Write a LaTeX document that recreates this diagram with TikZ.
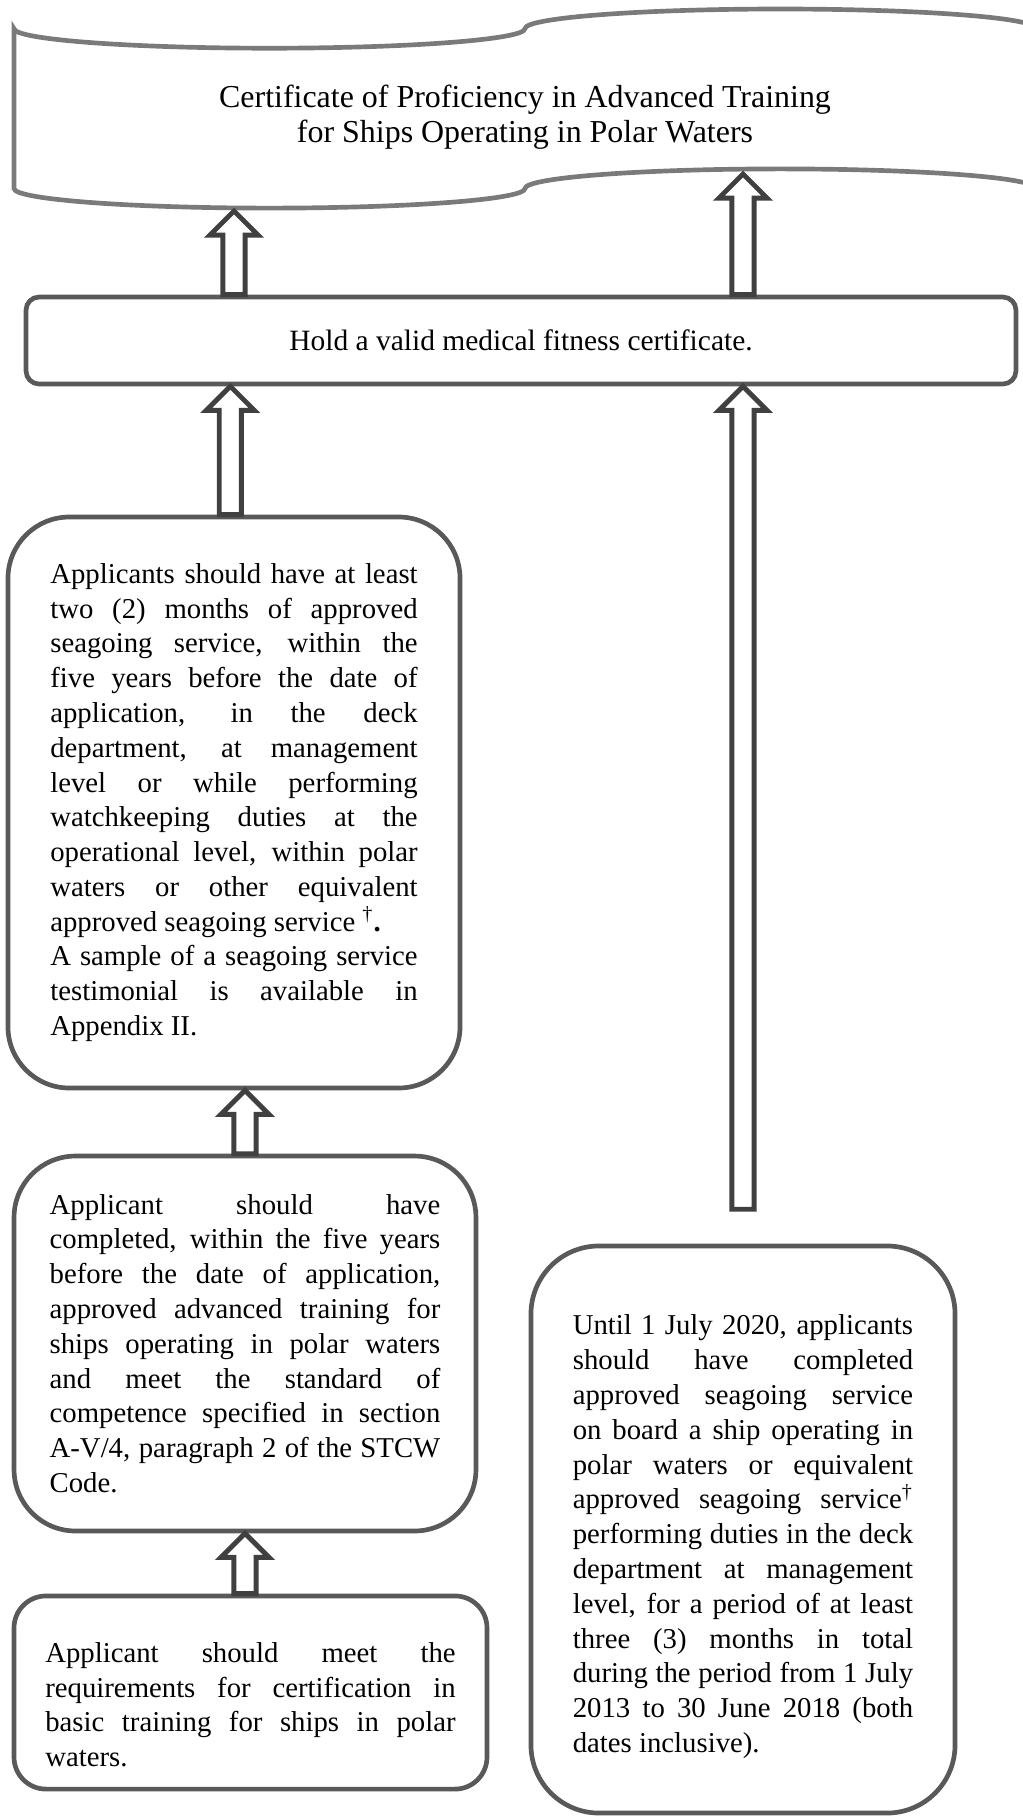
\documentclass[tikz,border=0pt]{standalone}
\usepackage{fontspec}
\setmainfont{Liberation Serif}
\usepackage{tikz}
\usetikzlibrary{calc}
\definecolor{bangray}{HTML}{7A7A7A}
\definecolor{boxgray}{HTML}{595959}
\definecolor{arrgray}{HTML}{404040}

\begin{document}
\begin{tikzpicture}[x=0.407pt,y=-0.407pt]
\tikzstyle{every node}=[inner sep=0pt];
\tikzstyle{box}=[draw=boxgray,line width=1.9pt,fill=white];
\tikzstyle{req}=[box,align=justify,font={\fontsize{11.7}{14.16}\selectfont\hyphenpenalty=10000\exhyphenpenalty=10000\parindent=0pt}];
\tikzstyle{uparrow}=[draw=arrgray,line width=2pt,fill=white,miter limit=10,to path={let \p1=(\tikztostart),\p2=(\tikztotarget) in (\x1-4.5pt,\y1) -- (\x1-4.5pt,\y2-9.8pt) -- (\x1-9.8pt,\y2-9.8pt) -- (\x1,\y2) -- (\x1+9.8pt,\y2-9.8pt) -- (\x1+4.5pt,\y2-9.8pt) -- (\x1+4.5pt,\y1) -- cycle}];
\useasboundingbox (0,0) rectangle (1022,1816);
\draw[draw=bangray,line width=1.9pt] (14,28.6) .. controls (14,39.4) and (128.4,48.2) .. (269.5,48.2) .. controls (410.6,48.2) and (525,39.4) .. (525,28.6) .. controls (525,17.8) and (639.4,9) .. (780.5,9) .. controls (921.6,9) and (1036,17.8) .. (1036,28.6) -- (1036,188.5) .. controls (1036,177.7) and (921.6,168.9) .. (780.5,168.9) .. controls (639.4,168.9) and (525,177.7) .. (525,188.5) .. controls (525,199.3) and (410.6,208.1) .. (269.5,208.1) .. controls (128.4,208.1) and (14,199.3) .. (14,188.5) -- cycle;
\node[font={\fontsize{13}{14.3}\selectfont},align=center] (cert) at (525,117) {Certificate of Proficiency in Advanced Training\\for Ships Operating in Polar Waters};
\coordinate (banl) at (234,211);
\coordinate (banr) at (743,174);
\node[box,rounded corners=5.3pt,minimum width=402.9pt,minimum height=35.4pt,font={\fontsize{12}{14.4}\selectfont}] (med) at (521,340.5) {Hold a valid medical fitness certificate.};
\node[req,rounded corners=25pt,minimum width=184pt,minimum height=232.4pt,text width=149.5pt] (svc) at (234,802.5) {Applicants should have at least\linebreak two (2) months of approved\linebreak seagoing service, within the\linebreak five years before the date of\linebreak application, in the deck\linebreak department, at management\linebreak level or while performing\linebreak watchkeeping duties at the\linebreak operational level, within polar\linebreak waters or other equivalent\linebreak approved seagoing service \textsuperscript{\textdagger}\textbf{.}\par A sample of a seagoing service\linebreak testimonial is available in\linebreak Appendix II.};
\node[req,rounded corners=25pt,minimum width=188pt,minimum height=152.6pt,text width=159pt] (trn) at (245,1343.5) {Applicant should have\linebreak completed, within the five years\linebreak before the date of application,\linebreak approved advanced training for\linebreak ships operating in polar waters\linebreak and meet the standard of\linebreak competence specified in section\linebreak A-V/4, paragraph 2 of the STCW\linebreak Code.};
\node[req,rounded corners=13pt,minimum width=192.5pt,minimum height=78.6pt,text width=167pt] (bas) at (250.5,1692.5) {\rule{0pt}{18pt}Applicant should meet the\linebreak requirements for certification in\linebreak basic training for ships in polar\linebreak waters.};
\node[req,rounded corners=27.7pt,minimum width=172.6pt,minimum height=230.8pt,text width=138.5pt] (sea) at (743,1529.5) {\rule{0pt}{14pt}Until 1 July 2020, applicants\linebreak should have completed\linebreak approved seagoing service\linebreak on board a ship operating in\linebreak polar waters or equivalent\linebreak approved seagoing service\textsuperscript{\textdagger}\linebreak performing duties in the deck\linebreak department at management\linebreak level, for a period of at least\linebreak three (3) months in total\linebreak during the period from 1 July\linebreak 2013 to 30 June 2018 (both\linebreak dates inclusive).};
\coordinate (seatip) at ([yshift=14pt]sea.north);
\draw[uparrow] (svc.north |- med.north) to (banl);
\draw[uparrow] (sea.north |- med.north) to (banr);
\draw[uparrow] ([xshift=-1.5pt]svc.north) to (med.south);
\draw[uparrow] (trn.north) to (svc.south);
\draw[uparrow] (trn.south |- bas.north) to (trn.south);
\draw[uparrow] (seatip) to (med.south);
\end{tikzpicture}
\end{document}
